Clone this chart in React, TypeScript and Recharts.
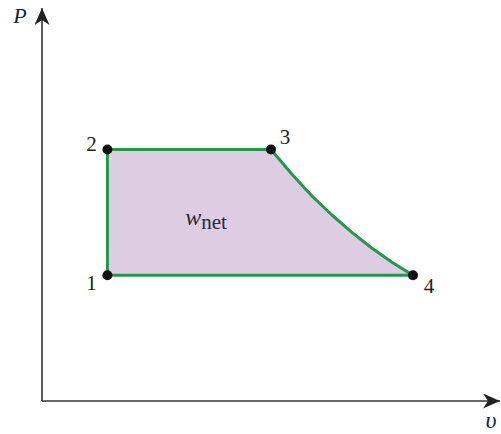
import React from 'react'
import { ComposedChart, Area, Scatter, XAxis, YAxis, ReferenceDot } from 'recharts'

// cycle boundary (v along the top edge, P on that edge)
const cycleV = [1.0, 3.5, 3.82, 4.13, 4.44, 4.75, 5.05, 5.36, 5.67]
const cycleTop = [6.4, 6.4, 5.77, 5.21, 4.72, 4.27, 3.88, 3.52, 3.2]
const lowP = 3.2

const stateNames = ['1', '2', '3', '4']
const stateV = [1.0, 1.0, 3.5, 5.67]
const stateP = [3.2, 6.4, 6.4, 3.2]

const GREEN = '#22994a'
const FILL = '#decce2'
const AXIS = '#333'
const SERIF = '"Liberation Serif", "DejaVu Serif", serif'

const areaData = cycleV.map((v, i) => ({ v, range: [lowP, cycleTop[i]] }))
const outline = [
  { v: stateV[0], P: stateP[0] },
  ...cycleV.map((v, i) => ({ v, P: cycleTop[i] })),
  { v: stateV[0], P: stateP[0] },
]
const states = stateNames.map((name, i) => ({ name, v: stateV[i], P: stateP[i] }))

const labelOffset: Record<string, [number, number]> = {
  '1': [-16, 8],
  '2': [-16, -5],
  '3': [14, -12],
  '4': [16, 11],
}

const StateDot = (props: any) => {
  const { cx, cy, payload } = props
  const [dx, dy] = labelOffset[payload.name]
  return (
    <g>
      <circle cx={cx} cy={cy} r={5} fill="#111" />
      <text
        x={cx + dx}
        y={cy + dy}
        textAnchor="middle"
        dominantBaseline="central"
        fontFamily={SERIF}
        fontSize={21}
        fill="#222"
      >
        {payload.name}
      </text>
    </g>
  )
}

const NoShape = () => <g />

export default function App() {
  return (
    <div style={{ position: 'absolute', left: 0, top: 0, background: '#fff' }}>
      <svg width={0} height={0} style={{ position: 'absolute' }}>
        <defs>
          <marker
            id="axisArrow"
            viewBox="0 0 17 15"
            markerWidth={17}
            markerHeight={15}
            refX={17}
            refY={7.5}
            orient="auto-start-reverse"
            markerUnits="userSpaceOnUse"
          >
            <path d="M0,0 L17,7.5 L0,15 L5,7.5 Z" fill="#222" />
          </marker>
        </defs>
      </svg>
      <ComposedChart width={501} height={434} margin={{ top: 8, right: 1, bottom: 32, left: 41 }}>
        <XAxis
          type="number"
          dataKey="v"
          domain={[0, 7]}
          allowDataOverflow
          height={1}
          tick={false}
          tickLine={false}
          axisLine={{ stroke: AXIS, strokeWidth: 1.6, markerEnd: 'url(#axisArrow)' }}
          label={{
            content: (p: any) => (
              <text
                x={p.viewBox.x + p.viewBox.width - 9}
                y={p.viewBox.y + 27}
                textAnchor="middle"
                fontFamily={SERIF}
                fontStyle="italic"
                fontSize={24}
                fill="#1c2340"
              >
                υ
              </text>
            ),
          }}
        />
        <YAxis
          type="number"
          dataKey="P"
          domain={[0, 10]}
          allowDataOverflow
          width={1}
          tick={false}
          tickLine={false}
          axisLine={{ stroke: AXIS, strokeWidth: 1.6, markerStart: 'url(#axisArrow)' }}
          label={{
            content: (p: any) => (
              <text
                x={p.viewBox.x + p.viewBox.width - 22}
                y={p.viewBox.y + 15}
                textAnchor="middle"
                fontFamily={SERIF}
                fontStyle="italic"
                fontSize={22}
                fill="#1c2340"
              >
                P
              </text>
            ),
          }}
        />
        <Area
          data={areaData}
          dataKey="range"
          type="linear"
          stroke="none"
          fill={FILL}
          fillOpacity={1}
          isAnimationActive={false}
        />
        <Scatter
          data={outline}
          dataKey="P"
          line={{ stroke: GREEN, strokeWidth: 3, strokeLinejoin: 'round' }}
          shape={NoShape}
          isAnimationActive={false}
        />
        <Scatter data={states} dataKey="P" shape={StateDot} isAnimationActive={false} />
        <ReferenceDot
          x={2.19}
          y={4.48}
          r={0}
          fill="none"
          stroke="none"
          label={{
            content: (p: any) => (
              <text x={p.viewBox.x} y={p.viewBox.y} fontFamily={SERIF} fill="#2a2a3a">
                <tspan fontStyle="italic" fontSize={24}>w</tspan>
                <tspan fontSize={21} dy={4}>net</tspan>
              </text>
            ),
          }}
        />
      </ComposedChart>
    </div>
  )
}
